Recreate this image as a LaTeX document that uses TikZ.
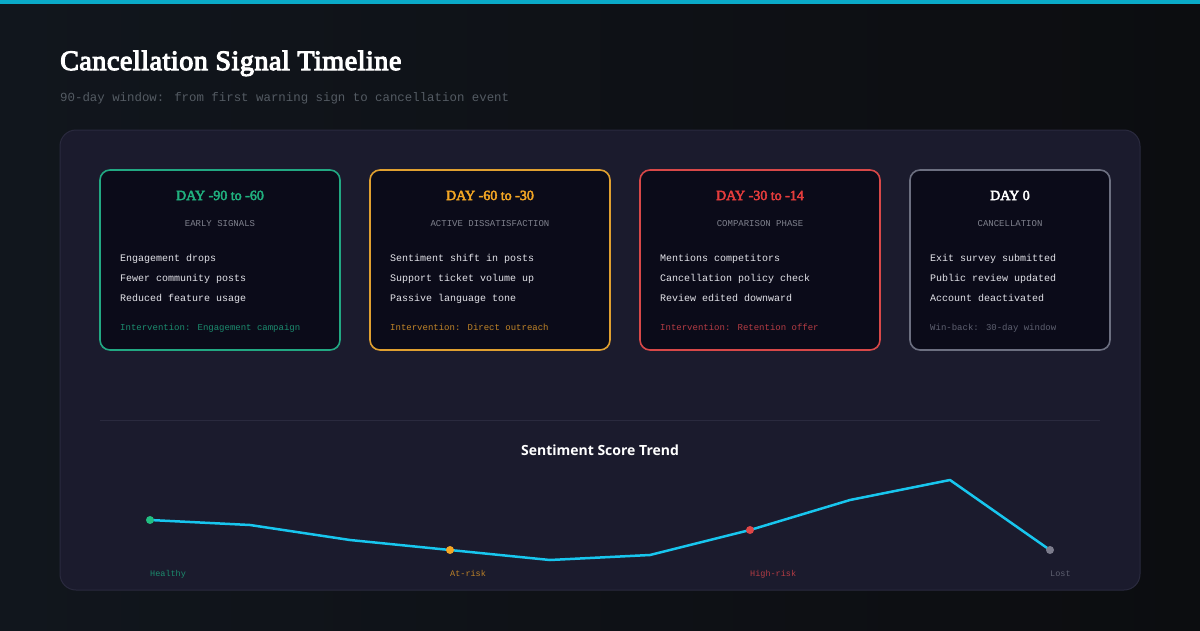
\documentclass[tikz,border=0pt]{standalone}
\usepackage{fontspec}
\setmainfont{Liberation Serif}
\newfontfamily\titlef{Liberation Serif}[FakeBold=4, LetterSpace=2]
\newfontfamily\fakeb{Liberation Serif}[FakeBold=3.5]
\newfontfamily\monof{Liberation Mono}
\newfontfamily\sansf{Open Sans}
\definecolor{bgA}{HTML}{11161D}
\definecolor{bgB}{HTML}{0C0D10}
\definecolor{topbar}{HTML}{0AAAC8}
\definecolor{panel}{HTML}{1B1B2D}
\definecolor{panelline}{HTML}{2A2A3E}
\definecolor{cardfill}{HTML}{0B0B19}
\definecolor{cgreen}{HTML}{22A882}
\definecolor{cgreenT}{HTML}{20B07E}
\definecolor{cgreenD}{HTML}{1C8C6E}
\definecolor{corange}{HTML}{E0A030}
\definecolor{corangeT}{HTML}{F2A524}
\definecolor{corangeD}{HTML}{C08428}
\definecolor{cred}{HTML}{D84848}
\definecolor{credT}{HTML}{E43C3C}
\definecolor{credD}{HTML}{B43C44}
\definecolor{cgray}{HTML}{6C6F80}
\definecolor{cgrayD}{HTML}{5E6070}
\definecolor{subgray}{HTML}{80828E}
\definecolor{itemtext}{HTML}{E4E4EA}
\definecolor{trend}{HTML}{18C6EE}
\definecolor{dgreen}{HTML}{22BE82}
\definecolor{dorange}{HTML}{F5A623}
\definecolor{dred}{HTML}{E04646}
\definecolor{dgray}{HTML}{7C7C8C}
\definecolor{hsub}{HTML}{545B63}
\tikzset{
  card/.style={draw=#1, line width=1.6pt, fill=cardfill, rounded corners=10pt, minimum height=180pt, inner sep=0pt},
  cardtitle/.style={font=\fakeb\fontsize{14}{16}\selectfont, anchor=base, inner sep=0pt},
  cardsub/.style={font=\monof\fontsize{9}{11}\selectfont, text=subgray, anchor=base, inner sep=0pt},
  item/.style={font=\monof\fontsize{10}{12}\selectfont, text=itemtext, anchor=base west, inner sep=0pt},
  interv/.style={font=\monof\fontsize{9}{11}\selectfont, anchor=base west, inner sep=0pt},
  dot/.style={circle, fill=#1, minimum size=8pt, inner sep=0pt},
  lbl/.style={font=\monof\fontsize{8.5}{10}\selectfont, anchor=base west, inner sep=0pt}
}
\begin{document}
\begin{tikzpicture}[x=1pt,y=-1pt]
\useasboundingbox (0,0) rectangle (1200,630);
\shade[left color=bgA, right color=bgB] (0,0) rectangle (1200,630);
\fill[topbar] (0,0) rectangle (1200,4);
\node[anchor=base west, inner sep=0pt, text=white, font=\titlef\fontsize{28}{30}\selectfont] (title) at (60,70) {Cancellation Signal Timeline};
\node[anchor=base west, inner sep=0pt, text=hsub, font=\monof\fontsize{12.4}{14}\selectfont] (subtitle) at (60,101) {90-day window: from first warning sign to cancellation event};
\draw[panelline, fill=panel, line width=1pt, rounded corners=16pt] (60,130) rectangle (1140,590);
% cards
\node[card=cgreen, minimum width=240pt] (c1) at (220,260) {};
\node[card=corange, minimum width=240pt] (c2) at (490,260) {};
\node[card=cred, minimum width=240pt] (c3) at (760,260) {};
\node[card=cgray, minimum width=200pt] (c4) at (1010,260) {};
% card 1
\node[cardtitle, text=cgreenT] (t1) at (220,200) {DAY -90 to -60};
\node[cardsub] (s1) at (220,226) {EARLY SIGNALS};
\node[item] (i11) at (120,261) {Engagement drops};
\node[item] (i12) at (120,281) {Fewer community posts};
\node[item] (i13) at (120,301) {Reduced feature usage};
\node[interv, text=cgreenD] (v1) at (120,330) {Intervention: Engagement campaign};
% card 2
\node[cardtitle, text=corangeT] (t2) at (490,200) {DAY -60 to -30};
\node[cardsub] (s2) at (490,226) {ACTIVE DISSATISFACTION};
\node[item] (i21) at (390,261) {Sentiment shift in posts};
\node[item] (i22) at (390,281) {Support ticket volume up};
\node[item] (i23) at (390,301) {Passive language tone};
\node[interv, text=corangeD] (v2) at (390,330) {Intervention: Direct outreach};
% card 3
\node[cardtitle, text=credT] (t3) at (760,200) {DAY -30 to -14};
\node[cardsub] (s3) at (760,226) {COMPARISON PHASE};
\node[item] (i31) at (660,261) {Mentions competitors};
\node[item] (i32) at (660,281) {Cancellation policy check};
\node[item] (i33) at (660,301) {Review edited downward};
\node[interv, text=credD] (v3) at (660,330) {Intervention: Retention offer};
% card 4
\node[cardtitle, text=white] (t4) at (1010,200) {DAY 0};
\node[cardsub] (s4) at (1010,226) {CANCELLATION};
\node[item] (i41) at (930,261) {Exit survey submitted};
\node[item] (i42) at (930,281) {Public review updated};
\node[item] (i43) at (930,301) {Account deactivated};
\node[interv, text=cgrayD] (v4) at (930,330) {Win-back: 30-day window};
% divider
\draw[panelline, line width=1pt] (100,420) -- (1100,420);
\node[anchor=base, inner sep=0pt, text=white, font=\sansf\bfseries\fontsize{14}{16}\selectfont] (charttitle) at (600,455) {Sentiment Score Trend};
% chart
\coordinate (p1) at (150,520);
\coordinate (p2) at (250,525);
\coordinate (p3) at (350,540);
\coordinate (p4) at (450,550);
\coordinate (p5) at (550,560);
\coordinate (p6) at (650,555);
\coordinate (p7) at (750,530);
\coordinate (p8) at (850,500);
\coordinate (p9) at (950,480);
\coordinate (p10) at (1050,550);
\draw[trend, line width=2.5pt, line join=round] (p1) -- (p2) -- (p3) -- (p4) -- (p5) -- (p6) -- (p7) -- (p8) -- (p9) -- (p10);
\node[dot=dgreen] (d1) at (p1) {};
\node[dot=dorange] (d2) at (p4) {};
\node[dot=dred] (d3) at (p7) {};
\node[dot=dgray] (d4) at (p10) {};
\node[lbl, text=cgreenD] (l1) at (150,576) {Healthy};
\node[lbl, text=corangeD] (l2) at (450,576) {At-risk};
\node[lbl, text=credD] (l3) at (750,576) {High-risk};
\node[lbl, text=cgrayD] (l4) at (1050,576) {Lost};
\end{tikzpicture}
\end{document}
